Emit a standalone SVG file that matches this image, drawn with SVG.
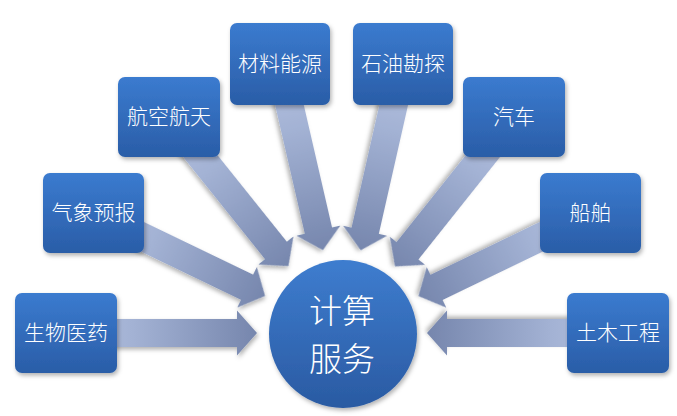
<svg xmlns="http://www.w3.org/2000/svg" width="677" height="416" viewBox="0 0 677 416">
<defs>
<linearGradient id="boxG" x1="0" y1="0" x2="0" y2="1">
<stop offset="0" stop-color="#3b7bcf"/>
<stop offset="1" stop-color="#2a5da7"/>
</linearGradient>
<linearGradient id="circG" x1="0" y1="0" x2="0" y2="1">
<stop offset="0" stop-color="#3e7dcf"/>
<stop offset="1" stop-color="#2a5aa2"/>
</linearGradient>
<linearGradient id="arrG" x1="0" y1="0" x2="1" y2="0">
<stop offset="0" stop-color="#b6c3e2"/>
<stop offset="0.35" stop-color="#a3b2d4"/>
<stop offset="1" stop-color="#7686ad"/>
</linearGradient>
<filter id="sh" x="-20%" y="-20%" width="140%" height="140%">
<feDropShadow dx="1.5" dy="2.5" stdDeviation="2" flood-color="#000" flood-opacity="0.3"/>
</filter>
<path id="arr" d="M0,-14 L171,-14 L171,-22.5 L191,0 L171,22.5 L171,14 L0,14 Z"/>
</defs>
<style>
.box{fill:url(#boxG);filter:url(#sh)}
.lbl{fill:#ffffff;font-family:"Noto Sans CJK SC","Noto Sans",sans-serif;font-size:21px;font-weight:300;text-anchor:middle}
.arrow{fill:url(#arrG);filter:url(#sh)}
.ctr{fill:#ffffff;font-family:"Noto Sans CJK SC","Noto Sans",sans-serif;font-size:33px;font-weight:300;text-anchor:middle}
</style>
<rect width="677" height="416" fill="#ffffff"/>
<g id="connectors">
<use href="#arr" class="arrow" transform="translate(66,333) rotate(0)"/>
<use href="#arr" class="arrow" transform="translate(93,213) rotate(25.73)"/>
<use href="#arr" class="arrow" transform="translate(169,117) rotate(51.3)"/>
<use href="#arr" class="arrow" transform="translate(280,64) rotate(77.02)"/>
<use href="#arr" class="arrow" transform="translate(403,64) rotate(102.78)"/>
<use href="#arr" class="arrow" transform="translate(514,117) rotate(128.53)"/>
<use href="#arr" class="arrow" transform="translate(590.5,213) rotate(154.22)"/>
<use href="#arr" class="arrow" transform="translate(618,333) rotate(180)"/>
</g>
<g id="center">
<circle cx="343" cy="334" r="74" fill="url(#circG)" filter="url(#sh)"/>
<text class="ctr" x="342" y="323">计算<tspan x="342" dy="48">服务</tspan></text>
</g>
<g id="n1"><rect class="box" x="15" y="293" width="102" height="80" rx="7"/><text class="lbl" x="66" y="340">生物医药</text></g>
<g id="n2"><rect class="box" x="43" y="173" width="101" height="80" rx="7"/><text class="lbl" x="93.5" y="220">气象预报</text></g>
<g id="n3"><rect class="box" x="118" y="77" width="102" height="80" rx="7"/><text class="lbl" x="169" y="124">航空航天</text></g>
<g id="n4"><rect class="box" x="230" y="23" width="100" height="82" rx="7"/><text class="lbl" x="280" y="71">材料能源</text></g>
<g id="n5"><rect class="box" x="353" y="23" width="100" height="82" rx="7"/><text class="lbl" x="403" y="71">石油勘探</text></g>
<g id="n6"><rect class="box" x="463" y="77" width="102" height="80" rx="7"/><text class="lbl" x="514" y="124">汽车</text></g>
<g id="n7"><rect class="box" x="540" y="173" width="101" height="80" rx="7"/><text class="lbl" x="590.5" y="220">船舶</text></g>
<g id="n8"><rect class="box" x="567" y="293" width="102" height="80" rx="7"/><text class="lbl" x="618" y="340">土木工程</text></g>
</svg>
